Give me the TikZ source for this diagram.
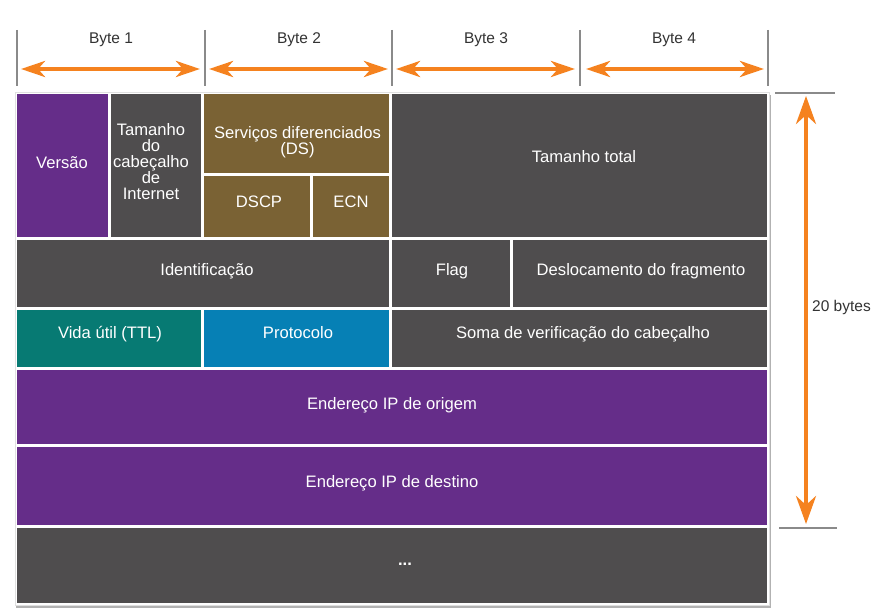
\documentclass[tikz,border=0pt]{standalone}
\usepackage{fontspec}
\setmainfont{Liberation Sans}
\usetikzlibrary{arrows.meta}
\definecolor{cpurple}{HTML}{652D89}
\definecolor{cgray}{HTML}{4F4D4E}
\definecolor{cbrown}{HTML}{7A6234}
\definecolor{cteal}{HTML}{077A73}
\definecolor{cblue}{HTML}{0680B5}
\definecolor{corange}{HTML}{F5821F}
\definecolor{ctick}{HTML}{8A8A8A}
\definecolor{clabel}{HTML}{333333}
\tikzset{
  celltext/.style={text=white, font=\fontsize{16.6}{16}\selectfont, inner sep=0pt, text height=11.9pt, text depth=0pt},
  multitext/.style={text=white, font=\fontsize{16.6}{16}\selectfont, inner sep=0pt, align=center},
  hdrtext/.style={text=clabel, font=\fontsize{15.5}{16}\selectfont, inner sep=0pt, text height=11.1pt, text depth=0pt},
  tickline/.style={draw=ctick, line width=1.6pt},
  oarrow/.style={draw=corange, line width=4pt, {Stealth[length=24pt,width=16pt,inset=7pt]}-{Stealth[length=24pt,width=16pt,inset=7pt]}},
  varrow/.style={draw=corange, line width=4pt, {Stealth[length=28pt,width=20pt,inset=9pt]}-{Stealth[length=28pt,width=20pt,inset=9pt]}},
}
\begin{document}
\begin{tikzpicture}[x=1pt,y=-1pt]
\useasboundingbox[fill=white] (0,0) rectangle (885,615);
% header ticks
\foreach \i/\x in {0/17,1/205,2/392,3/580,4/768}{
  \coordinate (tt\i) at (\x,30);
  \coordinate (tb\i) at (\x,86);
  \draw[tickline] (tt\i) -- (tb\i);
}
% byte labels
\node[hdrtext] (b1) at (111,38) {Byte 1};
\node[hdrtext] (b2) at (299,38) {Byte 2};
\node[hdrtext] (b3) at (486,38) {Byte 3};
\node[hdrtext] (b4) at (674,38) {Byte 4};
% byte arrows
\coordinate (a1l) at (21,69);  \coordinate (a1r) at (200,69);
\coordinate (a2l) at (209,69); \coordinate (a2r) at (388,69);
\coordinate (a3l) at (396,69); \coordinate (a3r) at (575,69);
\coordinate (a4l) at (586,69); \coordinate (a4r) at (764,69);
\draw[oarrow] (a1l) -- (a1r);
\draw[oarrow] (a2l) -- (a2r);
\draw[oarrow] (a3l) -- (a3r);
\draw[oarrow] (a4l) -- (a4r);
% table shadow / outline
\fill[black!30] (16,95) rectangle (770.5,608);
\fill[white] (15,92) rectangle (769.5,605.5);
\draw[black!12, line width=0.6pt] (15,92) rectangle (769.5,605.5);
% row 1
\fill[cpurple] (17,94) rectangle (108,237);
\fill[cgray]   (111,94) rectangle (201,237);
\fill[cbrown]  (204,94) rectangle (389,173);
\fill[cbrown]  (204,176) rectangle (310,237);
\fill[cbrown]  (313,176) rectangle (389,237);
\fill[cgray]   (392,94) rectangle (767,237);
% row 2
\fill[cgray] (17,240) rectangle (389,307);
\fill[cgray] (392,240) rectangle (510,307);
\fill[cgray] (513,240) rectangle (767,307);
% row 3
\fill[cteal] (17,310) rectangle (201,367);
\fill[cblue] (204,310) rectangle (389,367);
\fill[cgray] (392,310) rectangle (767,367);
% rows 4-6
\fill[cpurple] (17,370) rectangle (767,444);
\fill[cpurple] (17,447) rectangle (767,525);
\fill[cgray]   (17,528) rectangle (767,603);
% texts
\node[celltext] (versao) at (62,163) {Versão};
\node[multitext] (tam) at (151,162) {Tamanho\\do\\cabeçalho\\de\\Internet};
\node[multitext] (ds) at (297.5,142) {Serviços diferenciados\\(DS)};
\node[celltext] (dscp) at (259,202) {DSCP};
\node[celltext] (ecn) at (351,202) {ECN};
\node[celltext] (total) at (584,157) {Tamanho total};
\node[celltext] (ident) at (207,270) {Identificação};
\node[celltext] (flag) at (452,270) {Flag};
\node[celltext] (desl) at (641,270) {Deslocamento do fragmento};
\node[celltext] (ttl) at (110,333) {Vida útil (TTL)};
\node[celltext] (proto) at (298,333) {Protocolo};
\node[celltext] (soma) at (583,333) {Soma de verificação do cabeçalho};
\node[celltext] (orig) at (392,404) {Endereço IP de origem};
\node[celltext] (dest) at (392,482) {Endereço IP de destino};
\node[celltext, font=\fontsize{16.6}{16}\selectfont\bfseries] (more) at (405,560) {...};
% right dimension
\coordinate (rtl) at (775,93); \coordinate (rtr) at (835,93);
\coordinate (rbl) at (779,528); \coordinate (rbr) at (837,528);
\draw[tickline] (rtl) -- (rtr);
\draw[tickline] (rbl) -- (rbr);
\coordinate (vtop) at (806,96); \coordinate (vbot) at (806,524);
\draw[varrow] (vtop) -- (vbot);
\node[hdrtext, anchor=west] (bytes) at (812,306) {20 bytes};
\end{tikzpicture}
\end{document}
